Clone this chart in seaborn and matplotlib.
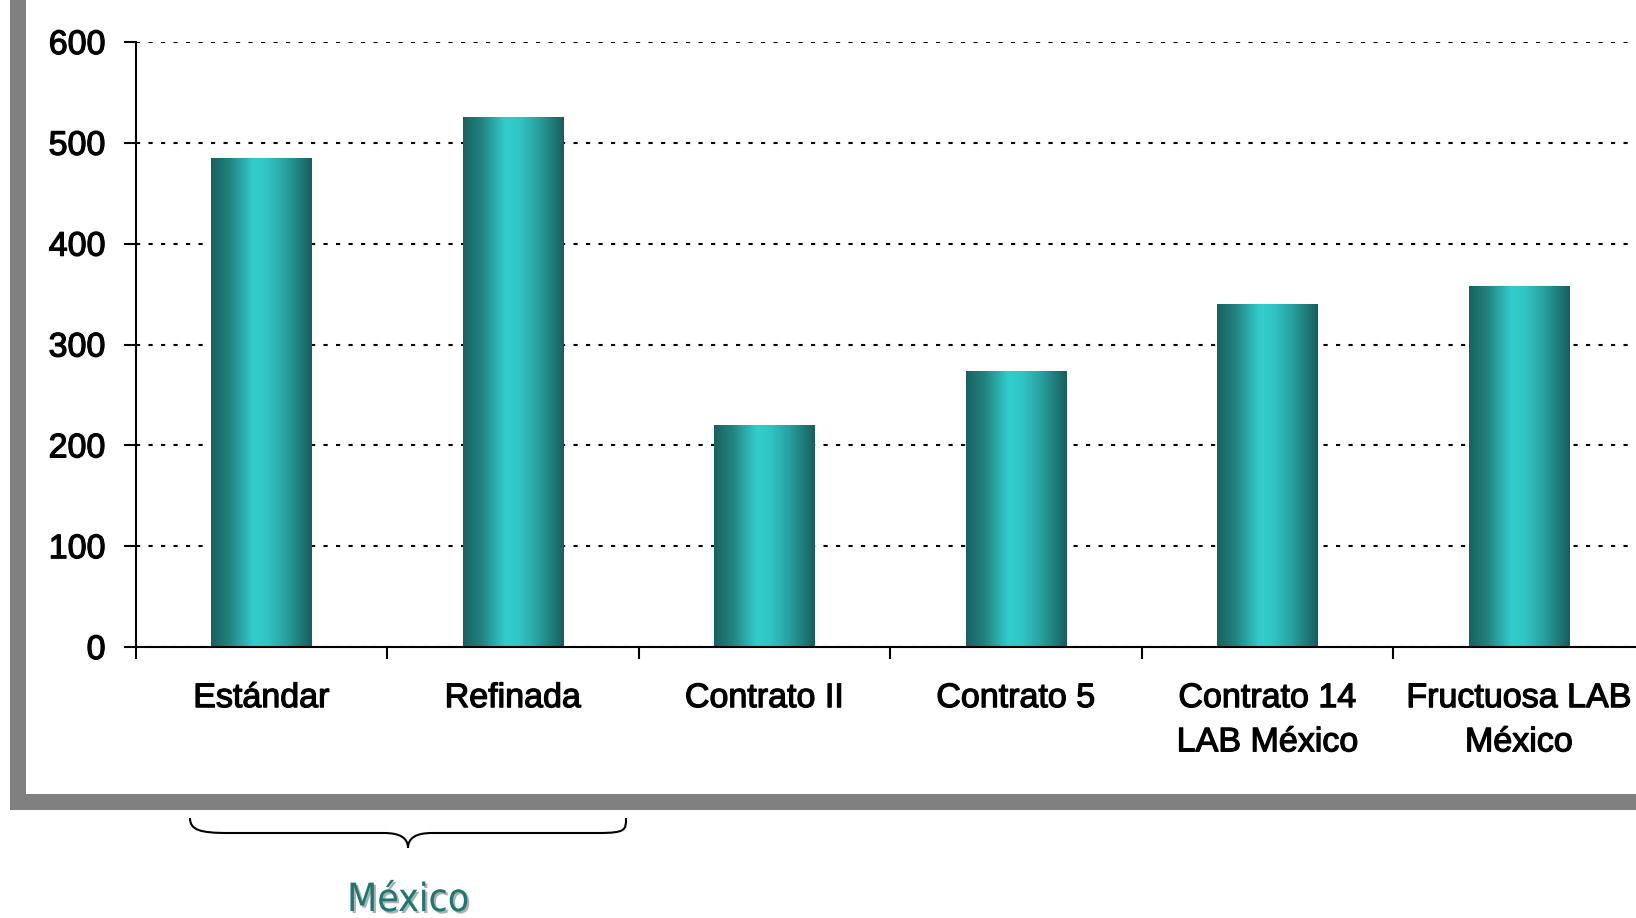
import numpy as np
import matplotlib
matplotlib.use('Agg')
import matplotlib.pyplot as plt
import seaborn as sns
from matplotlib.colors import LinearSegmentedColormap
from matplotlib.patches import Rectangle, PathPatch
from matplotlib.path import Path
import matplotlib.patheffects as pe

# data
categories = ['Estándar', 'Refinada', 'Contrato II', 'Contrato 5',
              'Contrato 14\nLAB México', 'Fructuosa LAB\nMéxico']
values = [485, 526, 220, 274, 340, 358]
y_ticks = [0, 100, 200, 300, 400, 500, 600]
group_label = 'México'

sns.set_style('white')
plt.rcParams['font.family'] = ['Liberation Sans', 'DejaVu Sans']

W, H = 1636, 918
fig = plt.figure(figsize=(W / 100, H / 100), dpi=100)

# gray shadow frame + white panel behind the chart
fig.add_artist(Rectangle((10 / W, 1 - 810 / H), 2, 2, transform=fig.transFigure,
                         facecolor='#808080', edgecolor='none', zorder=-2))
fig.add_artist(Rectangle((26 / W, 1 - 794 / H), 2, 2, transform=fig.transFigure,
                         facecolor='white', edgecolor='none', zorder=-1))

ax = fig.add_axes([135.6 / W, 1 - 647 / H, 1509 / W, 605 / H])
ax.patch.set_facecolor('none')

sns.barplot(x=categories, y=values, ax=ax, width=0.4, color='#33cccc', zorder=2)

# horizontal "cylinder" gradient on each bar
cmap = LinearSegmentedColormap.from_list('bar', [
    (0.0, '#176260'), (0.18, '#22827f'), (0.42, '#33cccc'),
    (0.55, '#31c6c6'), (0.75, '#27a09e'), (1.0, '#175e5c')])
grad = np.linspace(0, 1, 256).reshape(1, -1)
for p in list(ax.patches):
    x0, y0, w, h = p.get_x(), p.get_y(), p.get_width(), p.get_height()
    im = ax.imshow(grad, extent=[x0, x0 + w, y0, y0 + h], aspect='auto',
                   cmap=cmap, zorder=2.5, interpolation='bilinear')
    im.set_clip_path(p)
    p.set_facecolor('none')
    p.set_edgecolor('none')

ax.set_xlim(-0.5, len(categories) - 0.5)
ax.set_ylim(0, 600)
ax.set_yticks(y_ticks)
ax.set_xticks(range(len(categories)))
ax.set_xticklabels(categories, linespacing=1.55)
ax.set_xticks(np.arange(-0.5, len(categories), 1), minor=True)

ax.yaxis.grid(True, color='black', linestyle=(0, (2, 4)), linewidth=1.5)
ax.xaxis.grid(False)
ax.set_axisbelow(True)

for s in ['top', 'right']:
    ax.spines[s].set_visible(False)
for s in ['left', 'bottom']:
    ax.spines[s].set_color('black')
    ax.spines[s].set_linewidth(1.5)

ax.tick_params(axis='y', left=True, length=8.6, width=1.5, color='black',
               pad=13, labelsize=24.5, labelcolor='black')
ax.tick_params(axis='x', which='major', bottom=True, length=0, pad=26,
               labelsize=24.5, labelcolor='black')
ax.tick_params(axis='x', which='minor', bottom=True, length=8.6, width=1.5,
               color='black')
ax.set_xlabel('')
ax.set_ylabel('')

# slightly heavier label text
for t in ax.get_xticklabels() + ax.get_yticklabels():
    t.set_path_effects([pe.withStroke(linewidth=0.9, foreground='black')])

# brace under the first two categories
def px(x, y):
    return (x / W, 1 - y / H)

verts = [px(190, 818), px(190, 830), px(200, 833), px(228, 833),
         px(384, 833),
         px(400, 833), px(408, 838), px(408, 848),
         px(408, 838), px(416, 833), px(432, 833),
         px(598, 833),
         px(626, 833), px(626, 830), px(626, 818)]
codes = [Path.MOVETO, Path.CURVE4, Path.CURVE4, Path.CURVE4,
         Path.LINETO,
         Path.CURVE4, Path.CURVE4, Path.CURVE4,
         Path.CURVE4, Path.CURVE4, Path.CURVE4,
         Path.LINETO,
         Path.CURVE4, Path.CURVE4, Path.CURVE4]
fig.add_artist(PathPatch(Path(verts, codes), transform=fig.transFigure,
                         fill=False, edgecolor='black', linewidth=1.5))

fig.text(408 / W, 1 - 911 / H, group_label, ha='center', va='baseline',
         fontsize=28, color='#1b7770', family='DejaVu Sans',
         fontstretch='condensed',
         path_effects=[pe.SimplePatchShadow(offset=(1.5, -1.5),
                                            shadow_rgbFace='#9a9a9a', alpha=0.8),
                       pe.Normal()])

fig.savefig('out.png', dpi=100)
